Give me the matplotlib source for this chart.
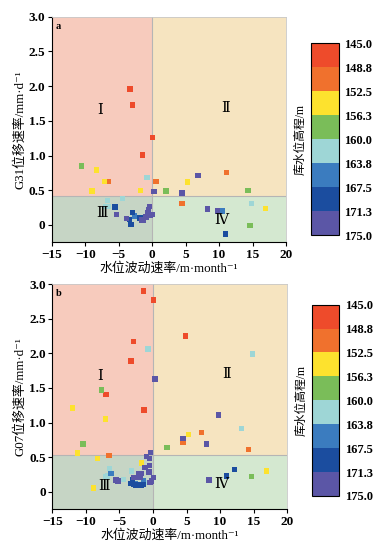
import numpy as np
import matplotlib
matplotlib.use('Agg')
import matplotlib.pyplot as plt
from matplotlib.colors import ListedColormap, BoundaryNorm

plt.rcParams['font.family'] = ['Liberation Serif', 'Noto Sans CJK SC', 'DejaVu Sans']

# water level classes (colorbar)
bounds = [145.0, 148.75, 152.5, 156.25, 160.0, 163.75, 167.5, 171.25, 175.0]
bound_labels = ['145.0', '148.8', '152.5', '156.3', '160.0', '163.8', '167.5', '171.3', '175.0']
colores = ['#EE4B2B', '#F0712D', '#FDE22E', '#7ABD59', '#9ED6D6', '#3B7CBF', '#1B4D9F', '#5B56A6']
mid = [(bounds[i] + bounds[i + 1]) / 2 for i in range(8)]

# panel a: G31
a_x = [-3.30, -2.95, 0.09, -1.40,
       -6.58, 0.59, 11.15, 4.47,
       -8.33, -7.13, -8.97, -1.75, 5.27, 16.97,
       -10.52, 2.08, 14.33, 14.63,
       -0.76, -6.68, -6.98, -6.53, -4.44, 14.83,
       10.55, -2.66,
       -5.54, -2.96, -3.41, -3.15, -1.81, 10.95,
       6.86, 0.29, 4.47, 8.31, 9.75, -5.29, -3.80, -0.42, -0.56, -0.66,
       -0.81, -0.32, 0.08, -1.56, -1.30, -1.0]
a_y = [1.96, 1.73, 1.26, 1.01,
       0.63, 0.63, 0.76, 0.31,
       0.79, 0.63, 0.49, 0.50, 0.62, 0.24,
       0.85, 0.49, 0.50, -0.01,
       0.68, 0.35, 0.27, 0.27, 0.38, 0.31,
       0.20, 0.13,
       0.26, 0.18, 0.08, 0.01, 0.10, -0.13,
       0.71, 0.48, 0.46, 0.23, 0.20, 0.15, 0.09, 0.27, 0.22, 0.18,
       0.115, 0.14, 0.15, 0.07, 0.06, 0.12]
a_cls = [0] * 4 + [1] * 4 + [2] * 6 + [3] * 4 + [4] * 6 + [5] * 2 + [6] * 6 + [7] * 16
a_thr = 0.41

# panel b: G07
b_x = [-1.44, 0.09, -2.88, -3.28, 4.81, -7.0, -1.35,
       -6.56, 4.46, 7.24, 14.20,
       -11.97, -7.06, -11.23, -8.30, -8.89, -1.69, 5.31, 16.93,
       -7.70, -10.43, 2.08, 14.64,
       -0.75, 14.79, 13.15, -6.51, -6.81, -7.0, -3.18, -4.42, -1.3,
       -6.26, -1.45, -2.6,
       12.11, 10.92, -3.33, -2.94, -2.6, -2.19, -3.0, -1.8, -1.45,
       0.29, 9.78, 8.0, 4.46, 8.34, -5.52, -5.2, -0.94, -0.34, -0.5,
       -0.55, -1.19, 0.04, -0.45, -1.69, -2.19, -2.83, -0.6, -0.25, -1.9]
b_y = [2.90, 2.77, 2.17, 1.89, 2.25, 1.41, 1.18,
       0.53, 0.72, 0.86, 0.61,
       1.21, 1.05, 0.56, 0.48, 0.06, 0.42, 0.83, 0.30,
       1.47, 0.69, 0.64, 0.22,
       2.06, 1.99, 0.92, 0.34, 0.23, 0.22, 0.30, 0.18, 0.14,
       0.27, 0.16, 0.12,
       0.32, 0.23, 0.125, 0.11, 0.10, 0.10, 0.17, 0.09, 0.11,
       1.63, 1.11, 0.69, 0.77, 0.17, 0.17, 0.16, 0.51, 0.57, 0.48,
       0.38, 0.35, 0.21, 0.135, 0.27, 0.27, 0.21, 0.29, 0.16, 0.21]
b_cls = [0] * 7 + [1] * 4 + [2] * 8 + [3] * 4 + [4] * 9 + [5] * 3 + [6] * 9 + [7] * 20
b_thr = 0.54

cmap = ListedColormap(colores)
norm = BoundaryNorm(bounds, cmap.N)

fig = plt.figure(figsize=(3.81, 5.5), dpi=100)
ax_a = fig.add_axes([0.1357, 0.5595, 0.615, 0.410])
ax_b = fig.add_axes([0.137, 0.074, 0.617, 0.4096])
cax_a = fig.add_axes([0.8155, 0.5727, 0.0735, 0.3485])
cax_b = fig.add_axes([0.818, 0.0982, 0.0724, 0.348])


def painel(ax, cax, xs, ys, cls, thr, letra, ylabel, pos_rom):
    ax.set_xlim(-15, 20)
    ax.set_ylim(-0.25, 3.0)
    # quadrant backgrounds
    ax.fill_between([-15, 0], thr, 3.0, color='#F7CBBD', lw=0, zorder=0)
    ax.fill_between([0, 20], thr, 3.0, color='#F6E4C0', lw=0, zorder=0)
    ax.fill_between([-15, 0], -0.25, thr, color='#C6D5C5', lw=0, zorder=0)
    ax.fill_between([0, 20], -0.25, thr, color='#D4E8D0', lw=0, zorder=0)
    ax.axvline(0, color='#B5B5B5', lw=0.8, zorder=1)
    ax.axhline(thr, color='#B5B5B5', lw=0.8, zorder=1)

    z = [mid[c] for c in cls]
    ax.scatter(xs, ys, c=z, cmap=cmap, norm=norm, marker='s', s=15, lw=0, zorder=3)

    for txt, (px, py) in zip(['Ⅰ', 'Ⅱ', 'Ⅲ', 'Ⅳ'], pos_rom):
        ax.text(px, py, txt, fontsize=10.5, ha='center', va='center', zorder=4,
                family=['Liberation Serif', 'DejaVu Serif', 'Noto Sans CJK SC'])
    ax.text(-14.4, 2.86, letra, fontsize=7.5, fontweight='bold', ha='left', va='center')

    ax.set_xticks([-15, -10, -5, 0, 5, 10, 15, 20])
    ax.set_yticks([0, 0.5, 1.0, 1.5, 2.0, 2.5, 3.0])
    ax.set_yticklabels(['0', '0.5', '1.0', '1.5', '2.0', '2.5', '3.0'])
    for lab in ax.get_xticklabels() + ax.get_yticklabels():
        lab.set_fontweight('bold')
        lab.set_fontsize(9.5)
    ax.tick_params(direction='out', length=3, width=0.8, pad=1.5)
    ax.spines['top'].set_color('#C8C8C8')
    ax.spines['right'].set_color('#C8C8C8')
    ax.spines['top'].set_linewidth(0.6)
    ax.spines['right'].set_linewidth(0.6)
    ax.set_xlabel('水位波动速率/m·month⁻¹', fontsize=9.3, labelpad=1)
    ax.set_ylabel(ylabel, fontsize=9.3, labelpad=2)

    sm = plt.cm.ScalarMappable(cmap=cmap, norm=norm)
    cb = fig.colorbar(sm, cax=cax, ticks=bounds)
    cb.ax.invert_yaxis()
    cb.ax.set_yticklabels(bound_labels)
    cb.ax.tick_params(length=0, labelsize=9, pad=4)
    for lab in cb.ax.get_yticklabels():
        lab.set_fontweight('bold')
    cb.outline.set_linewidth(0.8)
    cb.ax.yaxis.set_label_position('left')
    cb.set_label('库水位高程/m', fontsize=8.5, labelpad=3)


painel(ax_a, cax_a, a_x, a_y, a_cls, a_thr, 'a', 'G31位移速率/mm·d⁻¹',
       [(-7.8, 1.65), (11.0, 1.68), (-7.5, 0.16), (10.3, 0.06)])
painel(ax_b, cax_b, b_x, b_y, b_cls, b_thr, 'b', 'G07位移速率/mm·d⁻¹',
       [(-7.9, 1.66), (10.9, 1.70), (-7.3, 0.08), (10.2, 0.11)])

fig.savefig('out.png', dpi=100)
